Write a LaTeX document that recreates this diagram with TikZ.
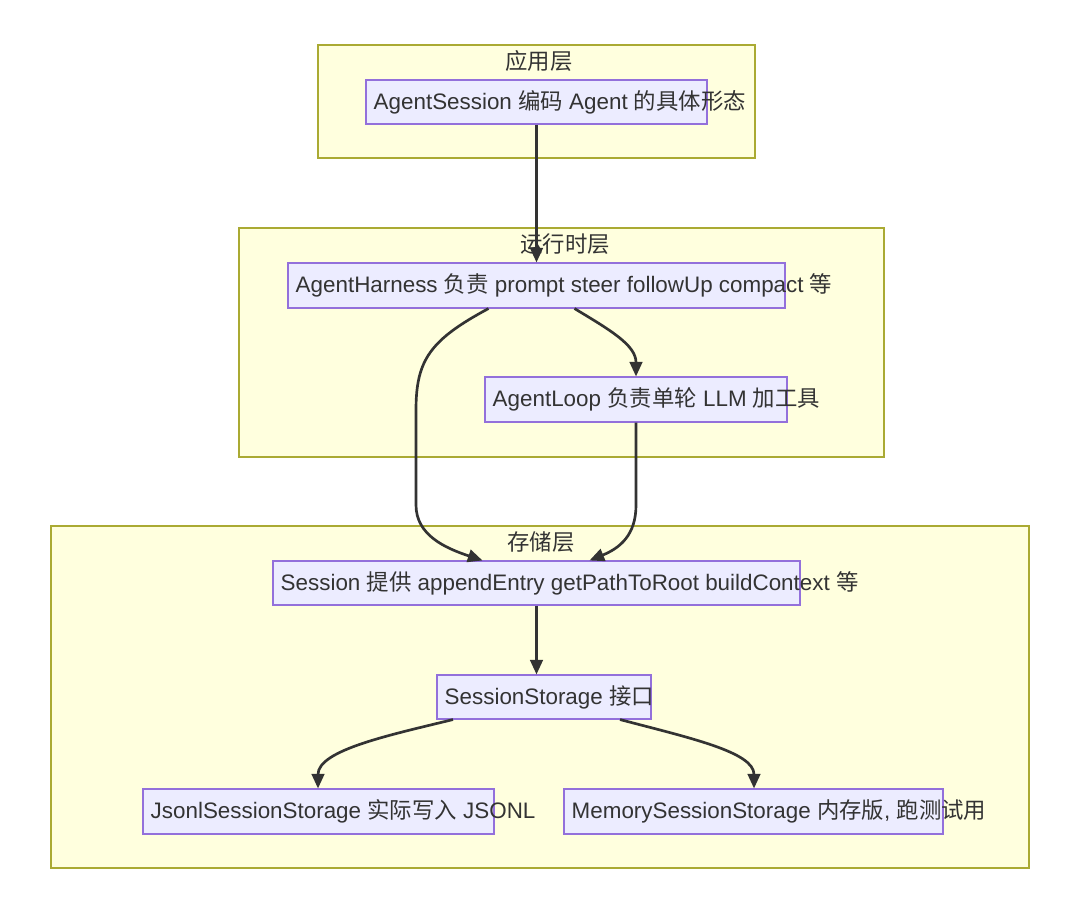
\documentclass[tikz,border=0pt]{standalone}
\usepackage{fontspec}
\setmainfont{Liberation Sans}
\newfontfamily\cjk{Noto Sans CJK SC}
\newcommand\zh[1]{{\cjk #1}}
\usetikzlibrary{arrows.meta,fit,calc}
\definecolor{clfill}{HTML}{FFFFDE}
\definecolor{clline}{HTML}{AAAA33}
\definecolor{ndfill}{HTML}{ECECFF}
\definecolor{ndline}{HTML}{9370DB}
\definecolor{ink}{HTML}{333333}
\tikzset{
  cluster/.style={draw=clline,fill=clfill,line width=1.1pt,inner sep=0pt},
  box/.style={draw=ndline,fill=ndfill,line width=0.8pt,inner sep=0pt},
  lbl/.style={anchor=west,inner sep=0pt,text=ink,font=\fontsize{16.8pt}{20pt}\selectfont},
  ttl/.style={inner sep=0pt,text=ink,font=\fontsize{16.8pt}{20pt}\selectfont},
  link/.style={draw=ink,line width=2pt,-{Triangle[length=11pt,width=9.5pt]}}
}
\begin{document}
\begin{tikzpicture}[x=0.75pt,y=-0.75pt]
\useasboundingbox[fill=white] (0,0) rectangle (1080,914);
% clusters
\node[cluster,fit={(318,45) (755,158)}] (c1) {};
\node[cluster,fit={(239,228) (884,457)}] (c2) {};
\node[cluster,fit={(51,526) (1029,868)}] (c3) {};
\node[ttl] (t1) at (539,61) {\zh{应用层}};
\node[ttl] (t2) at (565,244) {\zh{运行时层}};
\node[ttl] (t3) at (541,542) {\zh{存储层}};
% boxes
\node[box,fit={(366,80) (707,124)}] (as) {};
\node[box,fit={(288,263) (785,308)}] (h) {};
\node[box,fit={(485,377) (787,422)}] (lp) {};
\node[box,fit={(273,561) (800,605)}] (s) {};
\node[box,fit={(437,675) (651,719)}] (ss) {};
\node[box,fit={(143,789) (494,834)}] (js) {};
\node[box,fit={(564,789) (943,834)}] (ms) {};
% connector end points
\coordinate (hL) at ($(h.south)+(-48,0)$);
\coordinate (hR) at ($(h.south)+(38,0)$);
\coordinate (lpT) at ($(lp.north)+(0,0)$);
\coordinate (sL) at ($(s.north)+(-54,0)$);
\coordinate (sR) at ($(s.north)+(53,0)$);
\coordinate (ssL) at ($(ss.south)+(-91,0)$);
\coordinate (ssR) at ($(ss.south)+(76,0)$);
\coordinate (jsT) at ($(js.north)+(-0.5,0)$);
\coordinate (msT) at ($(ms.north)+(0.5,0)$);
\coordinate (lpB) at ($(lp.south)+(0,0)$);
% connectors
\draw[link] (as.south) -- (h.north);
\draw[link] (hL) .. controls (430,340) and (416,360) .. (416,410) -- (416,505) .. controls (416,535) and (445,548) .. (sL);
\draw[link] (hR) .. controls (610,330) and (636,345) .. (lpT);
\draw[link] (lpB) -- (636,505) .. controls (636,535) and (620,548) .. (sR);
\draw[link] (s.south) -- (s.south |- ss.north);
\draw[link] (ssL) .. controls (390,735) and (318,750) .. (jsT);
\draw[link] (ssR) .. controls (690,738) and (754,752) .. (msT);
% labels
\node[lbl] (asl) at ($(as.west)+(8,0)$) {AgentSession \zh{编码} Agent \zh{的具体形态}};
\node[lbl] (hl) at ($(h.west)+(8,0)$) {AgentHarness \zh{负责} prompt steer followUp compact \zh{等}};
\node[lbl] (lpl) at ($(lp.west)+(8,0)$) {AgentLoop \zh{负责单轮} LLM \zh{加工具}};
\node[lbl] (sl) at ($(s.west)+(8,0)$) {Session \zh{提供} appendEntry getPathToRoot buildContext \zh{等}};
\node[lbl] (ssl) at ($(ss.west)+(8,0)$) {SessionStorage \zh{接口}};
\node[lbl] (jsl) at ($(js.west)+(8,0)$) {JsonlSessionStorage \zh{实际写入} JSONL};
\node[lbl] (msl) at ($(ms.west)+(8,0)$) {MemorySessionStorage \zh{内存版}, \zh{跑测试用}};
\end{tikzpicture}
\end{document}
